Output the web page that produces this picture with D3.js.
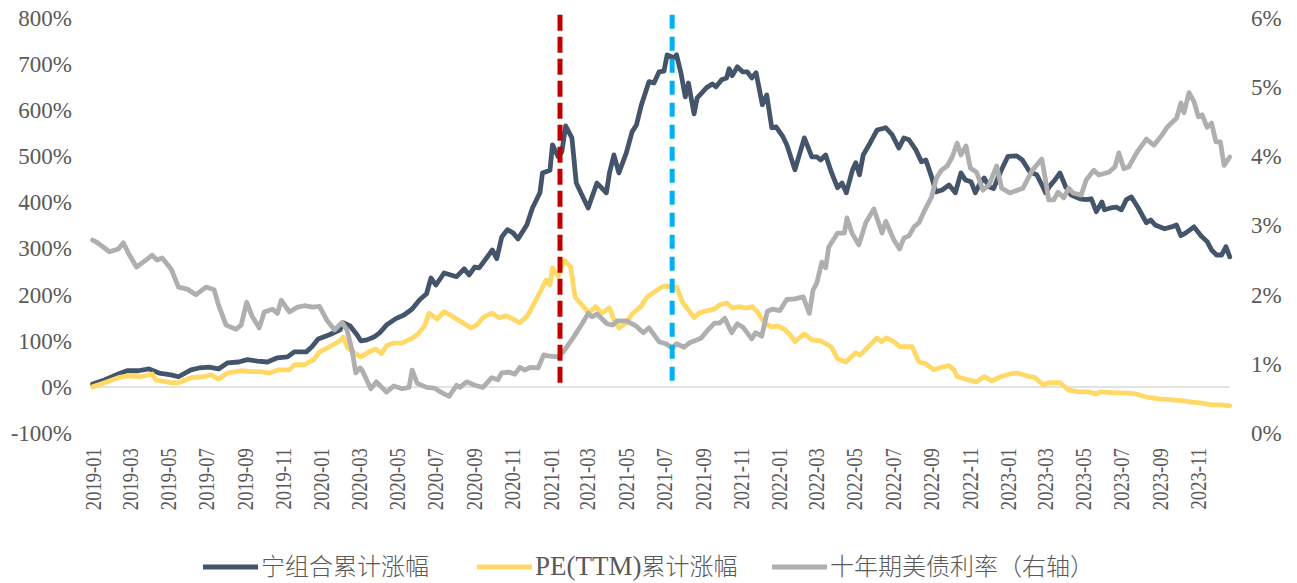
<!DOCTYPE html>
<html>
<head>
<meta charset="utf-8">
<script src="https://cdn.jsdelivr.net/npm/d3@7"></script>
<style>
  body { margin: 0; background: #fff; }
  svg text { font-family: "Liberation Serif", "Noto Sans CJK SC", serif; fill: #595959; }
</style>
</head>
<body>
<svg width="1297" height="583"></svg>
<script>
'use strict';

// series names, in legend order
var seriesNames = ["宁组合累计涨幅", "PE(TTM)累计涨幅", "十年期美债利率（右轴）"];

// tick labels
var xTickLabels = ["2019-01", "2019-03", "2019-05", "2019-07", "2019-09", "2019-11",
  "2020-01", "2020-03", "2020-05", "2020-07", "2020-09", "2020-11",
  "2021-01", "2021-03", "2021-05", "2021-07", "2021-09", "2021-11",
  "2022-01", "2022-03", "2022-05", "2022-07", "2022-09", "2022-11",
  "2023-01", "2023-03", "2023-05", "2023-07", "2023-09", "2023-11"];
var leftTicks = [-100, 0, 100, 200, 300, 400, 500, 600, 700, 800];
var rightTicks = [0, 1, 2, 3, 4, 5, 6];

// dates marked with dashed lines
var markerDates = ["2021-01-17", "2021-07-15"];

// 宁组合累计涨幅 (%)
var comboDates = ["2019-01-02", "2019-01-21", "2019-02-12", "2019-02-26", "2019-03-16", "2019-04-02", "2019-04-18", "2019-05-07", "2019-05-19", "2019-06-08",
  "2019-06-21", "2019-07-07", "2019-07-22", "2019-08-05", "2019-08-23", "2019-09-06", "2019-09-22", "2019-10-08", "2019-10-24", "2019-11-09",
  "2019-11-20", "2019-12-09", "2019-12-18", "2019-12-28", "2020-01-15", "2020-02-01", "2020-02-06", "2020-02-17", "2020-02-28", "2020-03-05",
  "2020-03-15", "2020-03-26", "2020-04-04", "2020-04-15", "2020-04-30", "2020-05-13", "2020-05-26", "2020-06-07", "2020-06-18", "2020-06-25",
  "2020-07-03", "2020-07-16", "2020-08-05", "2020-08-17", "2020-08-25", "2020-09-03", "2020-09-10", "2020-09-22", "2020-10-01", "2020-10-08",
  "2020-10-16", "2020-10-25", "2020-11-03", "2020-11-11", "2020-11-25", "2020-12-04", "2020-12-16", "2020-12-20", "2021-01-01", "2021-01-05",
  "2021-01-14", "2021-01-20", "2021-01-26", "2021-02-05", "2021-02-12", "2021-02-21", "2021-03-03", "2021-03-09", "2021-03-17", "2021-04-01",
  "2021-04-06", "2021-04-13", "2021-04-21", "2021-05-03", "2021-05-12", "2021-05-19", "2021-05-27", "2021-06-08", "2021-06-16", "2021-06-24",
  "2021-07-02", "2021-07-07", "2021-07-18", "2021-07-22", "2021-07-29", "2021-08-05", "2021-08-10", "2021-08-19", "2021-08-24", "2021-09-08",
  "2021-09-17", "2021-09-23", "2021-10-02", "2021-10-10", "2021-10-14", "2021-10-19", "2021-10-27", "2021-11-05", "2021-11-12", "2021-11-19",
  "2021-11-26", "2021-12-06", "2021-12-13", "2021-12-21", "2021-12-28", "2022-01-08", "2022-01-14", "2022-01-27", "2022-02-11", "2022-02-23",
  "2022-03-03", "2022-03-09", "2022-03-17", "2022-03-26", "2022-04-05", "2022-04-12", "2022-04-19", "2022-04-29", "2022-05-04", "2022-05-10",
  "2022-05-16", "2022-05-27", "2022-06-07", "2022-06-21", "2022-07-01", "2022-07-12", "2022-07-20", "2022-07-28", "2022-08-08", "2022-08-17",
  "2022-08-24", "2022-09-02", "2022-09-09", "2022-09-19", "2022-09-30", "2022-10-10", "2022-10-19", "2022-10-26", "2022-11-04", "2022-11-11",
  "2022-11-17", "2022-11-25", "2022-12-03", "2022-12-10", "2022-12-21", "2023-01-02", "2023-01-16", "2023-01-25", "2023-02-06", "2023-02-17",
  "2023-02-26", "2023-03-03", "2023-03-10", "2023-03-18", "2023-03-26", "2023-04-04", "2023-04-13", "2023-04-27", "2023-05-07", "2023-05-15",
  "2023-05-23", "2023-06-01", "2023-06-05", "2023-06-15", "2023-06-24", "2023-07-02", "2023-07-10", "2023-07-18", "2023-07-29", "2023-08-11",
  "2023-08-18", "2023-08-25", "2023-09-09", "2023-09-20", "2023-09-28", "2023-10-05", "2023-10-13", "2023-10-26", "2023-11-06", "2023-11-16",
  "2023-11-23", "2023-12-01", "2023-12-09", "2023-12-16", "2023-12-22"];
var comboValues = [6, 15, 28, 35, 35, 39, 30, 26, 22, 37,
  41, 43, 39, 52, 54, 59, 56, 54, 63, 65,
  76, 76, 87, 104, 113, 124, 139, 132, 113, 100,
  102, 108, 117, 134, 148, 156, 169, 189, 202, 236,
  221, 247, 239, 256, 243, 260, 258, 280, 297, 278,
  325, 341, 334, 321, 351, 388, 421, 464, 470, 525,
  499, 510, 566, 540, 442, 416, 388, 412, 442, 421,
  464, 503, 464, 508, 553, 568, 612, 662, 659, 683,
  685, 720, 714, 720, 681, 629, 659, 592, 627, 649,
  657, 651, 666, 670, 690, 675, 694, 683, 683, 670,
  681, 612, 633, 562, 564, 542, 525, 471, 540, 499,
  499, 492, 503, 466, 432, 442, 421, 471, 486, 460,
  503, 529, 557, 562, 547, 518, 540, 536, 514, 488,
  492, 456, 423, 427, 438, 421, 464, 449, 445, 421,
  438, 453, 434, 430, 466, 500, 501, 492, 466, 460,
  436, 421, 436, 449, 464, 434, 416, 408, 406, 408,
  380, 401, 384, 388, 390, 384, 406, 412, 388, 356,
  362, 351, 343, 347, 351, 328, 334, 347, 328, 315,
  297, 286, 286, 304, 282];

// PE(TTM)累计涨幅 (%)
var peDates = ["2019-01-02", "2019-01-21", "2019-02-12", "2019-02-27", "2019-03-19", "2019-04-07", "2019-04-13", "2019-05-07", "2019-05-19", "2019-06-08",
  "2019-06-28", "2019-07-10", "2019-07-22", "2019-08-05", "2019-08-27", "2019-09-13", "2019-09-28", "2019-10-11", "2019-10-26", "2019-11-12",
  "2019-11-20", "2019-12-06", "2019-12-21", "2019-12-30", "2020-01-15", "2020-02-01", "2020-02-06", "2020-02-13", "2020-02-24", "2020-03-05",
  "2020-03-18", "2020-03-29", "2020-04-07", "2020-04-15", "2020-04-27", "2020-05-10", "2020-05-24", "2020-06-03", "2020-06-14", "2020-06-22",
  "2020-07-05", "2020-07-16", "2020-07-28", "2020-08-10", "2020-08-21", "2020-08-28", "2020-09-06", "2020-09-16", "2020-09-30", "2020-10-12",
  "2020-10-23", "2020-11-03", "2020-11-14", "2020-11-26", "2020-12-07", "2020-12-18", "2020-12-26", "2021-01-01", "2021-01-05", "2021-01-14",
  "2021-01-24", "2021-02-03", "2021-02-10", "2021-02-21", "2021-03-04", "2021-03-15", "2021-03-24", "2021-04-06", "2021-04-13", "2021-04-21",
  "2021-05-03", "2021-05-12", "2021-05-26", "2021-06-05", "2021-06-19", "2021-06-29", "2021-07-07", "2021-07-15", "2021-07-22", "2021-08-01",
  "2021-08-10", "2021-08-19", "2021-08-27", "2021-09-08", "2021-09-21", "2021-09-29", "2021-10-10", "2021-10-19", "2021-10-30", "2021-11-10",
  "2021-11-20", "2021-11-28", "2021-12-09", "2021-12-20", "2021-12-30", "2022-01-11", "2022-01-19", "2022-01-27", "2022-02-11", "2022-02-23",
  "2022-03-09", "2022-03-18", "2022-03-26", "2022-04-05", "2022-04-18", "2022-05-04", "2022-05-11", "2022-05-24", "2022-06-07", "2022-06-14",
  "2022-06-22", "2022-07-04", "2022-07-14", "2022-08-02", "2022-08-13", "2022-08-24", "2022-09-06", "2022-09-19", "2022-09-30", "2022-10-08",
  "2022-10-13", "2022-10-26", "2022-11-13", "2022-11-25", "2022-12-08", "2022-12-21", "2023-01-05", "2023-01-17", "2023-02-01", "2023-02-14",
  "2023-02-28", "2023-03-08", "2023-03-26", "2023-04-09", "2023-04-25", "2023-05-11", "2023-05-23", "2023-05-29", "2023-06-23", "2023-07-09",
  "2023-07-24", "2023-08-11", "2023-09-01", "2023-09-21", "2023-10-05", "2023-10-23", "2023-11-08", "2023-11-23", "2023-12-09", "2023-12-22"];
var peValues = [0, 9, 20, 24, 22, 28, 15, 9, 9, 20,
  22, 26, 17, 30, 35, 33, 33, 30, 37, 37,
  48, 48, 59, 76, 87, 100, 108, 85, 74, 65,
  76, 82, 72, 89, 95, 95, 104, 113, 130, 160,
  147, 163, 154, 143, 134, 128, 134, 150, 160, 150,
  154, 147, 139, 154, 182, 210, 232, 221, 258, 240,
  275, 260, 195, 178, 160, 174, 160, 171, 145, 128,
  139, 158, 174, 195, 208, 217, 219, 215, 217, 182,
  167, 150, 160, 165, 169, 178, 182, 171, 174, 171,
  174, 163, 139, 130, 132, 124, 113, 98, 115, 102,
  100, 93, 87, 61, 54, 74, 69, 87, 106, 98,
  106, 98, 87, 87, 54, 50, 37, 43, 46, 37,
  22, 17, 11, 22, 13, 22, 28, 30, 24, 20,
  4, 9, 9, -7, -11, -11, -15, -11, -13, -13,
  -15, -22, -26, -28, -30, -33, -35, -39, -39, -41];

// 十年期美债利率 (%), right axis
var yieldDates = ["2019-01-02", "2019-01-10", "2019-01-29", "2019-02-12", "2019-02-20", "2019-02-28", "2019-03-13", "2019-03-28", "2019-04-07", "2019-04-15",
  "2019-04-23", "2019-05-08", "2019-05-19", "2019-06-02", "2019-06-16", "2019-07-02", "2019-07-15", "2019-07-22", "2019-08-03", "2019-08-19",
  "2019-08-27", "2019-09-05", "2019-09-14", "2019-09-25", "2019-10-03", "2019-10-16", "2019-10-24", "2019-10-30", "2019-11-12", "2019-11-25",
  "2019-12-06", "2019-12-19", "2019-12-30", "2020-01-11", "2020-01-23", "2020-02-04", "2020-02-12", "2020-02-20", "2020-02-26", "2020-03-04",
  "2020-03-07", "2020-03-21", "2020-03-30", "2020-04-15", "2020-04-27", "2020-05-10", "2020-05-21", "2020-05-26", "2020-06-03", "2020-06-18",
  "2020-06-30", "2020-07-13", "2020-07-24", "2020-08-05", "2020-08-10", "2020-08-21", "2020-09-03", "2020-09-16", "2020-09-30", "2020-10-10",
  "2020-10-16", "2020-10-28", "2020-11-06", "2020-11-14", "2020-11-22", "2020-11-30", "2020-12-13", "2020-12-22", "2021-01-01", "2021-01-14",
  "2021-01-22", "2021-02-08", "2021-02-22", "2021-03-03", "2021-03-09", "2021-03-17", "2021-04-02", "2021-04-11", "2021-04-18", "2021-05-03",
  "2021-05-18", "2021-05-30", "2021-06-08", "2021-06-24", "2021-07-05", "2021-07-15", "2021-07-22", "2021-08-03", "2021-08-11", "2021-08-30",
  "2021-09-10", "2021-09-21", "2021-09-29", "2021-10-07", "2021-10-18", "2021-10-27", "2021-11-05", "2021-11-19", "2021-11-25", "2021-12-05",
  "2021-12-14", "2021-12-22", "2022-01-03", "2022-01-14", "2022-01-27", "2022-02-09", "2022-02-19", "2022-02-25", "2022-03-03", "2022-03-11",
  "2022-03-17", "2022-03-22", "2022-04-05", "2022-04-16", "2022-04-20", "2022-04-28", "2022-05-09", "2022-05-20", "2022-06-02", "2022-06-15",
  "2022-06-21", "2022-07-04", "2022-07-13", "2022-07-20", "2022-07-28", "2022-08-05", "2022-08-13", "2022-08-21", "2022-09-02", "2022-09-10",
  "2022-09-18", "2022-09-27", "2022-10-05", "2022-10-13", "2022-10-19", "2022-10-27", "2022-11-03", "2022-11-13", "2022-11-23", "2022-12-03",
  "2022-12-15", "2022-12-23", "2023-01-05", "2023-01-26", "2023-02-10", "2023-02-25", "2023-03-03", "2023-03-08", "2023-03-16", "2023-03-23",
  "2023-04-01", "2023-04-09", "2023-04-16", "2023-04-29", "2023-05-07", "2023-05-19", "2023-05-27", "2023-06-12", "2023-06-22", "2023-06-28",
  "2023-07-06", "2023-07-14", "2023-07-27", "2023-08-11", "2023-08-23", "2023-09-05", "2023-09-13", "2023-09-28", "2023-10-05", "2023-10-10",
  "2023-10-18", "2023-10-26", "2023-11-02", "2023-11-08", "2023-11-16", "2023-11-23", "2023-11-30", "2023-12-07", "2023-12-13", "2023-12-22"];
var yieldValues = [2.79, 2.75, 2.62, 2.66, 2.75, 2.60, 2.40, 2.50, 2.57, 2.50,
  2.53, 2.36, 2.11, 2.08, 2.00, 2.11, 2.07, 1.85, 1.56, 1.50,
  1.56, 1.89, 1.68, 1.52, 1.75, 1.79, 1.73, 1.92, 1.75, 1.82,
  1.84, 1.82, 1.83, 1.63, 1.49, 1.60, 1.49, 1.20, 0.87, 0.94,
  0.91, 0.64, 0.74, 0.59, 0.68, 0.64, 0.66, 0.91, 0.72, 0.66,
  0.65, 0.58, 0.53, 0.69, 0.66, 0.74, 0.69, 0.66, 0.80, 0.77,
  0.87, 0.88, 0.85, 0.95, 0.91, 0.95, 0.94, 1.13, 1.11, 1.10,
  1.17, 1.39, 1.59, 1.73, 1.68, 1.72, 1.58, 1.56, 1.62, 1.62,
  1.55, 1.45, 1.52, 1.32, 1.29, 1.23, 1.29, 1.24, 1.30, 1.37,
  1.49, 1.59, 1.59, 1.66, 1.45, 1.58, 1.53, 1.36, 1.45, 1.40,
  1.76, 1.79, 1.77, 1.93, 1.94, 1.97, 1.73, 2.07, 2.17, 2.47,
  2.39, 2.69, 2.89, 2.89, 3.11, 2.89, 2.72, 3.04, 3.24, 2.89,
  3.06, 2.79, 2.66, 2.82, 2.85, 2.98, 3.04, 3.20, 3.41, 3.69,
  3.80, 3.86, 3.99, 4.19, 4.02, 4.15, 3.83, 3.77, 3.51, 3.59,
  3.86, 3.54, 3.47, 3.54, 3.80, 3.96, 3.66, 3.37, 3.37, 3.48,
  3.40, 3.54, 3.47, 3.44, 3.66, 3.80, 3.73, 3.77, 3.85, 4.05,
  3.82, 3.85, 4.06, 4.25, 4.16, 4.31, 4.42, 4.55, 4.77, 4.63,
  4.92, 4.79, 4.57, 4.60, 4.42, 4.48, 4.21, 4.21, 3.87, 3.99];

document.addEventListener('DOMContentLoaded', function() {

  var svg = d3.select("svg");
  var parse = d3.timeParse("%Y-%m-%d");
  var parseMonth = d3.timeParse("%Y-%m");

  var colors = ["#44546A", "#FFD966", "#AFAFAF"];

  // scales
  var x = d3.scaleTime()
    .domain([parse("2019-01-01"), parse("2024-01-01")])
    .range([92, 1236]);
  var yLeft = d3.scaleLinear().domain([-100, 800]).range([433, 18]);
  var yRight = d3.scaleLinear().domain([0, 6]).range([433, 18]);

  function toPoints(dates, values) {
    return dates.map(function(d, i) { return {date: parse(d), value: values[i]}; });
  }

  var series = [
    {points: toPoints(comboDates, comboValues), y: yLeft},
    {points: toPoints(peDates, peValues), y: yLeft},
    {points: toPoints(yieldDates, yieldValues), y: yRight}
  ];

  // zero line
  var first = parse(comboDates[0]);
  var last = parse(comboDates[comboDates.length - 1]);
  svg.append("line")
    .attr("x1", x(first))
    .attr("x2", x(last))
    .attr("y1", yLeft(0))
    .attr("y2", yLeft(0))
    .attr("stroke", "#D9D9D9")
    .attr("stroke-width", 1.5);

  // left axis
  svg.append("g")
    .attr("transform", "translate(92,0)")
    .call(d3.axisLeft(yLeft).tickValues(leftTicks).tickSize(0).tickPadding(20)
      .tickFormat(function(d) { return d + "%"; }))
    .call(function(g) { g.select(".domain").remove(); })
    .selectAll("text")
      .attr("font-size", 23)
      .attr("font-family", null);

  // right axis
  svg.append("g")
    .attr("transform", "translate(1230,0)")
    .call(d3.axisRight(yRight).tickValues(rightTicks).tickSize(0).tickPadding(21)
      .tickFormat(function(d) { return d + "%"; }))
    .call(function(g) { g.select(".domain").remove(); })
    .selectAll("text")
      .attr("font-size", 23)
      .attr("font-family", null);

  // x axis, rotated labels
  var xAxis = svg.append("g")
    .attr("transform", "translate(0,440)")
    .call(d3.axisBottom(x)
      .tickValues(xTickLabels.map(function(d) { return parseMonth(d); }))
      .tickSize(0)
      .tickFormat(d3.timeFormat("%Y-%m")));
  xAxis.select(".domain").remove();
  xAxis.selectAll("text")
    .attr("font-size", 23)
    .attr("font-family", null)
    .attr("text-anchor", "end")
    .attr("x", -10)
    .attr("y", 0)
    .attr("dy", "0.35em")
    .attr("transform", "rotate(-90) scale(0.81,1)");

  // lines
  series.forEach(function(s, i) {
    var line = d3.line()
      .x(function(d) { return x(d.date); })
      .y(function(d) { return s.y(d.value); });
    svg.append("path")
      .datum(s.points)
      .attr("fill", "none")
      .attr("stroke", colors[i])
      .attr("stroke-width", 4.8)
      .attr("stroke-linejoin", "round")
      .attr("stroke-linecap", "round")
      .attr("d", line);
  });

  // dashed markers
  var markerColors = ["#C00000", "#00B0F0"];
  var markerDash = ["16,6", "14,8"];
  markerDates.forEach(function(d, i) {
    svg.append("line")
      .attr("x1", x(parse(d)))
      .attr("x2", x(parse(d)))
      .attr("y1", yLeft(807))
      .attr("y2", yLeft(-2))
      .attr("stroke", markerColors[i])
      .attr("stroke-width", 5)
      .attr("stroke-dasharray", markerDash[i]);
  });

  // legend
  var legendX = [203, 477, 772];
  var legend = svg.append("g").attr("transform", "translate(0,567)");
  seriesNames.forEach(function(name, i) {
    legend.append("line")
      .attr("x1", legendX[i])
      .attr("x2", legendX[i] + 55)
      .attr("stroke", colors[i])
      .attr("stroke-width", 5);
    var t = legend.append("text")
      .attr("x", legendX[i] + 58)
      .attr("dy", "0.35em")
      .attr("font-size", 24);
    var m = name.match(/^([A-Za-z()]*)(.*)$/);
    if (m[1]) {
      t.append("tspan").attr("font-size", 27).text(m[1]);
    }
    t.append("tspan").attr("font-family", "Noto Sans CJK SC").attr("font-weight", 300).text(m[2]);
  });
});
</script>
</body>
</html>
